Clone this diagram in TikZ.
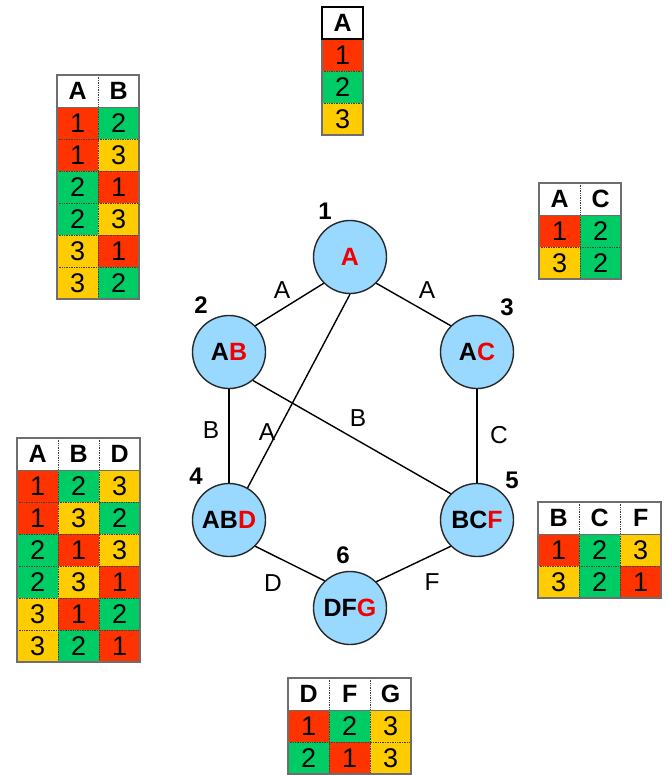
\documentclass[tikz,border=0pt]{standalone}
\usepackage{fontspec}
\setmainfont{Liberation Sans}
\definecolor{c1}{RGB}{255,51,0}
\definecolor{c2}{RGB}{0,204,102}
\definecolor{c3}{RGB}{255,204,0}
\definecolor{nodeblue}{RGB}{153,217,255}
\definecolor{rimgray}{RGB}{40,40,40}
\definecolor{tabgray}{RGB}{110,110,110}
\definecolor{keyred}{RGB}{240,0,0}

\tikzset{
  cellbase/.style={minimum width=41pt, minimum height=32pt, inner sep=0pt, anchor=north west},
  headbox/.style={cellbase, fill=white, font=\fontsize{25}{28}\selectfont\bfseries},
  valbox/.style={cellbase, font=\fontsize{27}{30}\selectfont},
  gridrule/.style={draw=black!75, densely dotted, line width=0.7pt},
  headrule/.style={draw=tabgray, line width=0.8pt},
  tabrim/.style={draw=tabgray, line width=1.2pt},
  clique/.style={circle, minimum size=73pt, inner sep=0pt, fill=nodeblue, draw=rimgray, line width=1.4pt, font=\fontsize{25}{28}\selectfont\bfseries},
  idx/.style={font=\fontsize{24}{26}\selectfont\bfseries, inner sep=0pt},
  sep/.style={font=\fontsize{24.5}{27}\selectfont, inner sep=0pt},
  link/.style={line width=1.4pt, draw=black},
}

% #1 name, #2 left x, #3 top y, #4 columns, #5 data rows, #6 headers, #7 rows
\newcommand\valtable[7]{%
  \foreach \h [count=\c] in {#6}
    \node[headbox] (#1-0-\c) at ({#2+(\c-1)*41}, {-(#3)}) {\h};
  \foreach \row [count=\r] in {#7}
    \foreach \v [count=\c] in \row
      \node[valbox, fill=c\v] (#1-\r-\c) at ({#2+(\c-1)*41}, {-(#3+\r*32)}) {\v};
  \ifnum#4>1
    \foreach \c in {2,...,#4}
      \draw[gridrule] ({#2+(\c-1)*41}, {-(#3)}) -- ({#2+(\c-1)*41}, {-(#3+(#5+1)*32)});
  \fi
  \ifnum#5>1
    \foreach \r in {2,...,#5}
      \draw[gridrule] (#2, {-(#3+\r*32)}) -- ({#2+#4*41}, {-(#3+\r*32)});
  \fi
  \draw[headrule] (#2, {-(#3+32)}) -- ({#2+#4*41}, {-(#3+32)});
  \draw[tabrim] (#2, {-(#3)}) rectangle ({#2+#4*41}, {-(#3+(#5+1)*32)});
}

\begin{document}
\begin{tikzpicture}[x=1pt, y=1pt]
  \useasboundingbox (0,0) rectangle (666,-775);

  % value tables
  \valtable{tA}{322}{7}{1}{3}{A}{{1},{2},{3}}
  \draw[line width=1.4pt] (322,-7) rectangle (363,-39);
  \valtable{tAB}{57}{75}{2}{6}{A,B}{{1,2},{1,3},{2,1},{2,3},{3,1},{3,2}}
  \valtable{tAC}{539}{183}{2}{2}{A,C}{{1,2},{3,2}}
  \valtable{tABD}{17}{438}{3}{6}{A,B,D}{{1,2,3},{1,3,2},{2,1,3},{2,3,1},{3,1,2},{3,2,1}}
  \valtable{tBCF}{538}{502}{3}{2}{B,C,F}{{1,2,3},{3,2,1}}
  \valtable{tDFG}{288}{678}{3}{2}{D,F,G}{{1,2,3},{2,1,3}}

  % cliques
  \node[clique] (n1) at (350,-257) {\textcolor{keyred}{A}};
  \node[clique] (n2) at (229,-352) {A\textcolor{keyred}{B}};
  \node[clique] (n3) at (477,-352) {A\textcolor{keyred}{C}};
  \node[clique] (n4) at (229,-520) {AB\textcolor{keyred}{D}};
  \node[clique] (n5) at (477,-520) {BC\textcolor{keyred}{F}};
  \node[clique] (n6) at (350,-608) {DF\textcolor{keyred}{G}};

  % clique numbers
  \node[idx] (i1) at (325,-211) {1};
  \node[idx] (i2) at (201,-305) {2};
  \node[idx] (i3) at (507,-307) {3};
  \node[idx] (i4) at (196,-476) {4};
  \node[idx] (i5) at (512,-480) {5};
  \node[idx] (i6) at (343,-555) {6};

  % connections
  \draw[link] (n1.225) -- (n2.45);
  \draw[link] (n1.-45) -- (n3.135);
  \draw[link] (n1.south) -- (n4.60);
  \draw[link] (n2.south) -- (n4.north);
  \draw[link] (n2.-50) -- (n5.135);
  \draw[link] (n3.south) -- (n5.north);
  \draw[link] (n4.-45) -- (n6.133);
  \draw[link] (n5.225) -- (n6.45);

  % separator labels
  \node[sep] (s12) at (282,-290) {A};
  \node[sep] (s13) at (427,-290) {A};
  \node[sep] (s24) at (211,-430) {B};
  \node[sep] (s14) at (267,-432) {A};
  \node[sep] (s25) at (358,-418) {B};
  \node[sep] (s35) at (499,-435) {C};
  \node[sep] (s46) at (273,-583) {D};
  \node[sep] (s56) at (432,-582) {F};
\end{tikzpicture}
\end{document}
